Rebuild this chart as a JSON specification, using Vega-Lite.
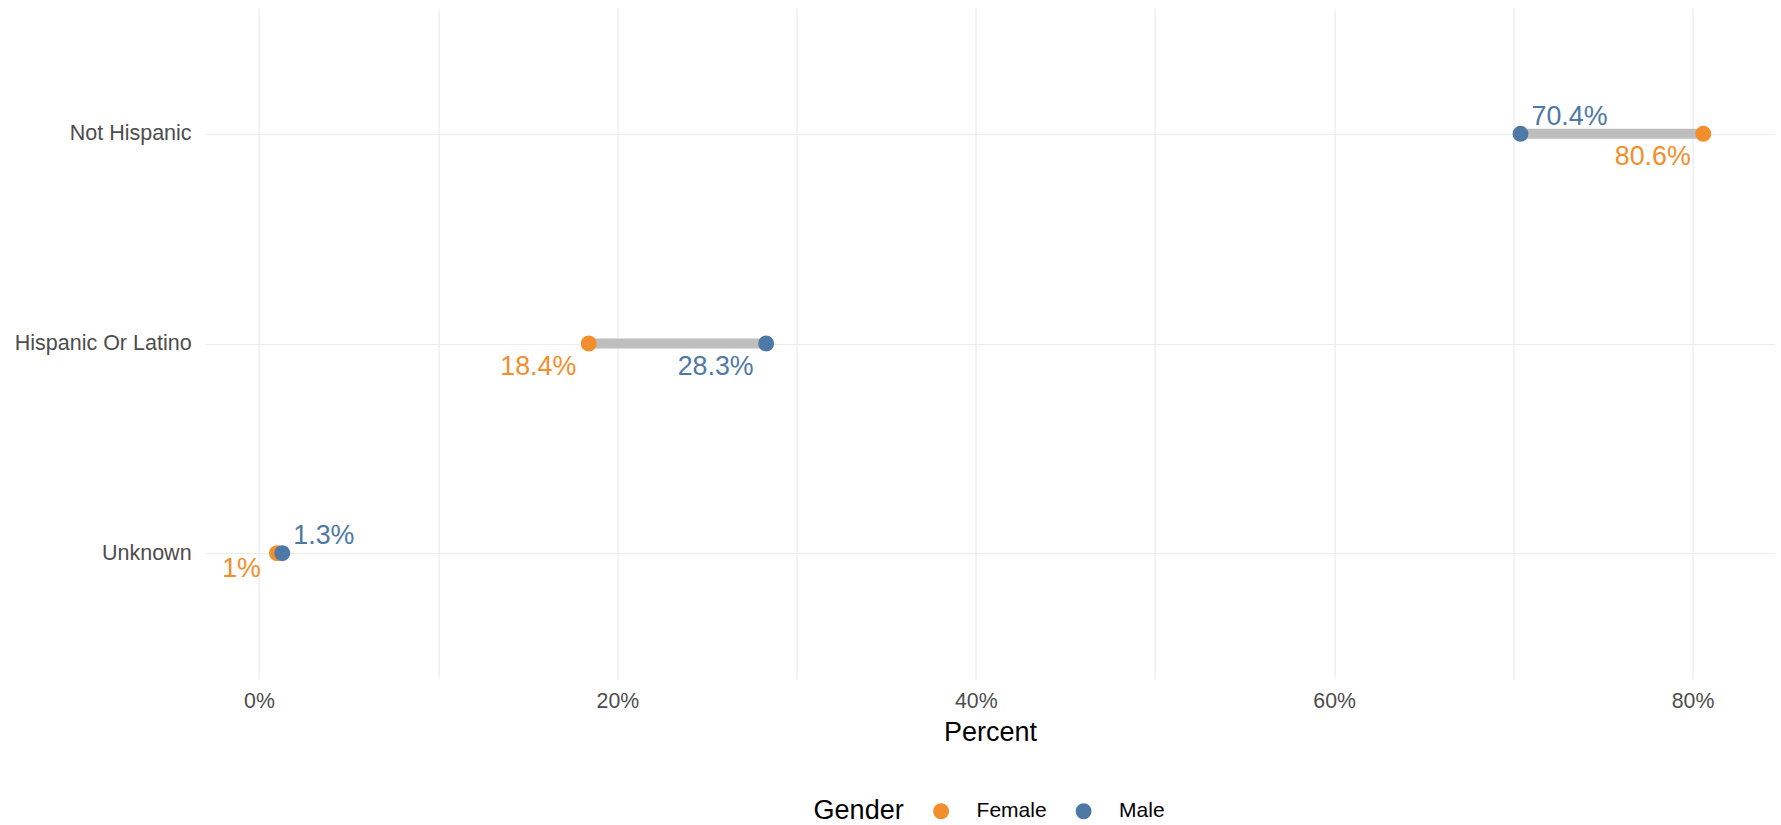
{
  "$schema": "https://vega.github.io/schema/vega-lite/v6.json",
  "autosize": {"type": "none"},
  "padding": {"left": 205.6, "top": 8, "right": 6.4, "bottom": 146},
  "width": 1569,
  "height": 671,
  "background": "white",
  "config": {
    "view": {"stroke": null},
    "font": "Liberation Sans",
    "axis": {"labelFont": "Liberation Sans", "titleFont": "Liberation Sans"}
  },
  "data": {
    "values": [
      {"Ethnicity": "Not Hispanic", "Gender": "Female", "Percent": 80.6, "Label": "80.6%"},
      {"Ethnicity": "Not Hispanic", "Gender": "Male", "Percent": 70.4, "Label": "70.4%"},
      {"Ethnicity": "Hispanic Or Latino", "Gender": "Female", "Percent": 18.4, "Label": "18.4%"},
      {"Ethnicity": "Hispanic Or Latino", "Gender": "Male", "Percent": 28.3, "Label": "28.3%"},
      {"Ethnicity": "Unknown", "Gender": "Female", "Percent": 1.0, "Label": "1%"},
      {"Ethnicity": "Unknown", "Gender": "Male", "Percent": 1.3, "Label": "1.3%"}
    ]
  },
  "encoding": {
    "y": {
      "field": "Ethnicity",
      "type": "nominal",
      "sort": ["Not Hispanic", "Hispanic Or Latino", "Unknown"],
      "scale": {"type": "point", "padding": 0.6},
      "axis": {
        "title": null,
        "ticks": false,
        "domain": false,
        "grid": true,
        "labelFontSize": 21.5,
        "labelColor": "#4D4D4D",
        "labelPadding": 14.5,
        "gridColor": "#EBEBEB",
        "gridWidth": 1.2
      }
    }
  },
  "layer": [
    {
      "mark": {"type": "rule", "strokeWidth": 10, "color": "#BEBEBE"},
      "encoding": {
        "x": {
          "aggregate": "min",
          "field": "Percent",
          "type": "quantitative",
          "scale": {"domain": [-2.98, 84.58], "nice": false, "zero": false},
          "axis": {
            "title": "Percent",
            "titleFontSize": 27,
            "titleFontWeight": "normal",
            "titleColor": "#000000",
            "titlePadding": 8,
            "values": [0, 10, 20, 30, 40, 50, 60, 70, 80],
            "labelExpr": "datum.value % 20 == 0 ? datum.value + '%' : ''",
            "labelFontSize": 21.3,
            "labelColor": "#4D4D4D",
            "labelPadding": 11,
            "ticks": false,
            "domain": false,
            "gridColor": "#EBEBEB",
            "gridWidth": 1.2
          }
        },
        "x2": {"aggregate": "max", "field": "Percent"}
      }
    },
    {
      "mark": {"type": "point", "filled": true, "opacity": 1, "size": 254},
      "encoding": {
        "x": {"field": "Percent", "type": "quantitative"},
        "color": {
          "field": "Gender",
          "type": "nominal",
          "scale": {"domain": ["Female", "Male"], "range": ["#F28E2B", "#4E79A7"]},
          "legend": {
            "orient": "none",
            "direction": "horizontal",
            "legendX": 608,
            "legendY": 792.5,
            "title": "Gender",
            "titleOrient": "left",
            "titleFontSize": 27,
            "titleFontWeight": "normal",
            "titleColor": "#000000",
            "titlePadding": 26,
            "titleBaseline": "middle",
            "labelFontSize": 21,
            "labelColor": "#000000",
            "labelOffset": 25,
            "columnPadding": 25.5,
            "symbolSize": 254,
            "symbolType": "circle",
            "symbolStrokeWidth": 0
          }
        }
      }
    },
    {
      "transform": [{"filter": "datum.Gender == 'Male' && datum.Ethnicity != 'Hispanic Or Latino'"}],
      "mark": {"type": "text", "align": "left", "baseline": "alphabetic", "dx": 11, "dy": -9, "fontSize": 26.8},
      "encoding": {
        "x": {"field": "Percent", "type": "quantitative"},
        "text": {"field": "Label"},
        "color": {"field": "Gender", "type": "nominal", "legend": null}
      }
    },
    {
      "transform": [{"filter": "!(datum.Gender == 'Male' && datum.Ethnicity != 'Hispanic Or Latino') && datum.Ethnicity != 'Unknown'"}],
      "mark": {"type": "text", "align": "right", "baseline": "alphabetic", "dx": -12.5, "dy": 31, "fontSize": 26.8},
      "encoding": {
        "x": {"field": "Percent", "type": "quantitative"},
        "text": {"field": "Label"},
        "color": {"field": "Gender", "type": "nominal", "legend": null}
      }
    },
    {
      "transform": [{"filter": "datum.Gender == 'Female' && datum.Ethnicity == 'Unknown'"}],
      "mark": {"type": "text", "align": "right", "baseline": "alphabetic", "dx": -16, "dy": 24, "fontSize": 26.8},
      "encoding": {
        "x": {"field": "Percent", "type": "quantitative"},
        "text": {"field": "Label"},
        "color": {"field": "Gender", "type": "nominal", "legend": null}
      }
    }
  ]
}
